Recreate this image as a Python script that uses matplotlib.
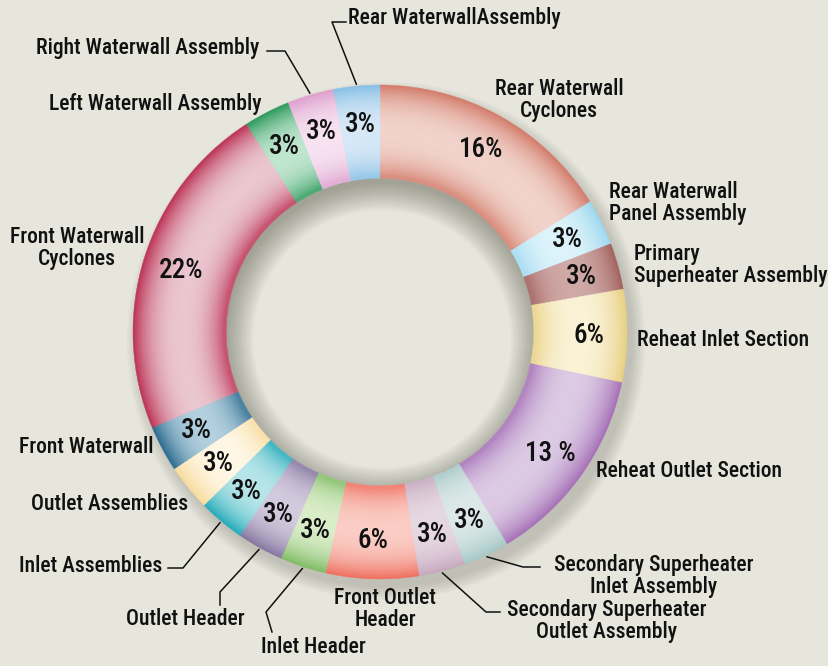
import numpy as np
import matplotlib.pyplot as plt
from matplotlib import font_manager as fm
from matplotlib.colors import to_rgb
from matplotlib.patches import Wedge, Circle

# Data (clockwise from 12 o'clock)
sections = ['Rear Waterwall\nCyclones', 'Rear Waterwall\nPanel Assembly', 'Primary\nSuperheater Assembly',
            'Reheat Inlet Section', 'Reheat Outlet Section', 'Secondary Superheater\nInlet Assembly',
            'Secondary Superheater\nOutlet Assembly', 'Front Outlet\nHeader', 'Inlet Header',
            'Outlet Header', 'Inlet Assemblies', 'Outlet Assemblies', 'Front Waterwall',
            'Front Waterwall\nCyclones', 'Left Waterwall Assembly', 'Right Waterwall Assembly',
            'Rear WaterwallAssembly']
shares = [16, 3, 3, 6, 13, 3, 3, 6, 3, 3, 3, 3, 3, 22, 3, 3, 3]
pct_text = ['16%', '3%', '3%', '6%', '13 %', '3%', '3%', '6%', '3%', '3%', '3%', '3%', '3%',
            '22%', '3%', '3%', '3%']

light = ['#F1D3CB', '#DDF3FA', '#CFA9A6', '#F9F2D6', '#DCCAE4', '#DCE8E7', '#E6D8E2', '#FACCC4',
         '#DAEDC9', '#D2CADD', '#B6E5E9', '#FFF7E6', '#B2D0DE', '#EAC6D0', '#BFE5CE', '#F6E2F1',
         '#D6E8F6']
dark = ['#D27A68', '#9CD8EE', '#A2625E', '#E8CF80', '#A56FB6', '#A5C7C7', '#C6A8BE', '#EE6E5E',
        '#7DBB63', '#85749F', '#22AAB8', '#F7DB9C', '#2A6A8E', '#BC3053', '#2A985A', '#DE9ECE',
        '#86BFE5']

bg = '#E6E6DD'

# pick a narrow font if one is installed
entries = fm.fontManager.ttflist
if any(f.name == 'Liberation Sans Narrow' for f in entries):
    font, stretch, lab_size, pct_size = ['Liberation Sans Narrow', 'DejaVu Sans'], 'normal', 15.5, 19
elif any(f.name == 'Roboto Condensed' for f in entries):
    font, stretch, lab_size, pct_size = ['Roboto Condensed', 'DejaVu Sans'], 'normal', 15.5, 19.5
elif any(f.name == 'DejaVu Sans' and str(f.stretch) == 'condensed' for f in entries):
    font, stretch, lab_size, pct_size = ['DejaVu Sans'], 'condensed', 13.5, 16
else:
    font, stretch, lab_size, pct_size = ['Roboto', 'DejaVu Sans'], 'normal', 13.5, 17

fig = plt.figure(figsize=(8.29, 6.66), dpi=100)
fig.patch.set_facecolor(bg)
ax = fig.add_axes([0, 0, 1, 1])
ax.set_facecolor(bg)

H = 666
cx, cy = 380, H - 332
R, r_in = 247, 155

# soft drop shadow outside the ring (towards bottom right)
for s in range(0, 14, 2):
    ax.add_patch(Wedge((cx + 6, cy - 9), R + s, 0, 360, width=R + s - r_in - 30,
                       facecolor='#3a3a2a', edgecolor='none', alpha=0.03, zorder=1))

# shadow cast into the hole
hole = Circle((cx, cy), r_in, transform=ax.transData)
for s in range(0, 28, 2):
    p = ax.add_patch(Wedge((cx + 2, cy - 7), r_in + 40, 0, 360, width=40 + s,
                           facecolor='#3a3a2a', edgecolor='none', alpha=0.032, zorder=1))
    p.set_clip_path(hole)

# ring drawn as thin concentric bands to fake the radial shading
n = 46
dr = (R - r_in) / n
light_rgb = np.array([to_rgb(c) for c in light])
dark_rgb = np.array([to_rgb(c) for c in dark])
wedges = None
for k in range(n):
    rad = R - k * dr
    t = 1 - (k + 0.5) / n  # 1 at outer edge, 0 at inner edge
    if t > 0.47:
        d = (t - 0.47) / 0.53
        g = 1 - d ** 2.4
    else:
        d = (0.47 - t) / 0.47
        g = 1 - 0.8 * d ** 2.4
    cols = dark_rgb + (light_rgb - dark_rgb) * g
    w, _ = ax.pie(shares, radius=rad, center=(cx, cy), startangle=90, counterclock=False,
                  colors=[tuple(c) for c in cols],
                  wedgeprops=dict(width=dr * 1.6, linewidth=0.3))
    for wd, c in zip(w, cols):
        wd.set_edgecolor(tuple(c))
        wd.set_zorder(2)
    if wedges is None:
        wedges = w

ax.set_xlim(0, 829)
ax.set_ylim(0, H)
ax.set_aspect('equal')
ax.axis('off')

# percentage labels
for wd, txt in zip(wedges, pct_text):
    mid = np.deg2rad((wd.theta1 + wd.theta2) / 2)
    rr = R * 0.845
    ax.text(cx + rr * np.cos(mid), cy + rr * np.sin(mid), txt, ha='center', va='center',
            fontsize=pct_size, family=font, fontstretch=stretch, fontweight='medium',
            color='#111111', zorder=5)

# category labels: (x, y, ha, leader elbow points) in pixel coords
layout = [
    (559, 100, 'center', None),
    (609, 203, 'left', None),
    (634, 265, 'left', None),
    (637, 340, 'left', None),
    (596, 471, 'left', None),
    (654, 576, 'center', [(523, 567), (540, 567)]),
    (607, 621, 'center', [(486, 612), (500, 612)]),
    (385, 609, 'center', None),
    (313, 647, 'center', [(266, 612), (272, 632)]),
    (185, 619, 'center', [(220, 592), (220, 605)]),
    (162, 566, 'right', [(183, 568), (168, 568)]),
    (188, 504, 'right', None),
    (154, 447, 'right', None),
    (77, 248, 'center', None),
    (262, 104, 'right', None),
    (259, 48, 'right', [(285, 51), (267, 51)]),
    (348, 18, 'left', [(332, 22), (346, 22)]),
]

for wd, name, (x, y, ha, elbow) in zip(wedges, sections, layout):
    ax.text(x, H - y, name, ha=ha, va='center', multialignment=ha, fontsize=lab_size,
            family=font, fontstretch=stretch, fontweight='medium', color='#111111',
            linespacing=1.0, zorder=5)
    if elbow:
        mid = np.deg2rad((wd.theta1 + wd.theta2) / 2)
        xs = [cx + (R + 2) * np.cos(mid)] + [p[0] for p in elbow]
        ys = [cy + (R + 2) * np.sin(mid)] + [H - p[1] for p in elbow]
        ax.plot(xs, ys, color='#111111', lw=1.1, zorder=4)

fig.savefig('out.png', dpi=100, facecolor=bg)
